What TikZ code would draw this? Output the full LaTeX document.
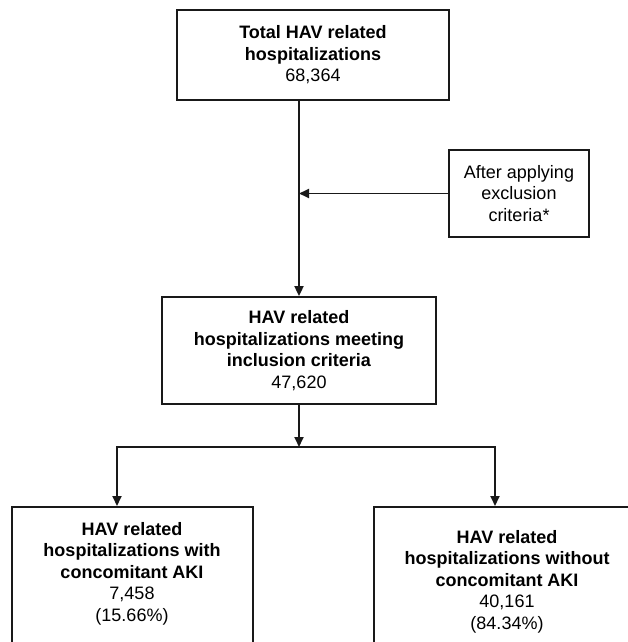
\documentclass[tikz,border=0pt]{standalone}
\usepackage{fontspec}
\setmainfont{Liberation Sans}
\usetikzlibrary{arrows.meta}
\begin{document}
\begin{tikzpicture}[x=1pt,y=-1pt,
  box/.style={draw=black!90, line width=1.8pt, align=center, inner sep=0pt, font=\fontsize{18}{21.5}\selectfont},
  txt/.style={align=center, inner sep=0pt, font=\fontsize{18}{21.5}\selectfont},
  arr/.style={draw=black!90, line width=1.8pt, -{Triangle[length=10pt,width=9pt]}},
  ln/.style={draw=black!90, line width=1.8pt, line cap=rect}]
\useasboundingbox (0,0) rectangle (628,642);
\clip (0,0) rectangle (628,642);
\fill[white] (0,0) rectangle (628,642);
\node[box, minimum width=272pt, minimum height=90pt] (top) at (313,55)
  {\textbf{Total HAV related}\\\textbf{hospitalizations}\\68,364};
\node[box, minimum width=140pt, minimum height=87pt] (excl) at (519,193.5)
  {After applying\\exclusion\\criteria*};
\node[box, minimum width=274pt, minimum height=107pt] (mid) at (299,350.5)
  {\textbf{HAV related}\\\textbf{hospitalizations meeting}\\\textbf{inclusion criteria}\\47,620};
\node[box, minimum width=241pt, minimum height=170pt, anchor=north] (left) at (132.5,506) {};
\node[txt, anchor=north] (lefttxt) at (132,522)
  {\textbf{HAV related}\\\textbf{hospitalizations with}\\\textbf{concomitant AKI}\\7,458\\(15.66\%)};
\node[box, minimum width=266pt, minimum height=170pt, anchor=north] (right) at (507,506) {};
\node[txt, anchor=north] (righttxt) at (507,530)
  {\textbf{HAV related}\\\textbf{hospitalizations without}\\\textbf{concomitant AKI}\\40,161\\(84.34\%)};
\draw[arr] (top.south -| mid.north) -- (mid.north);
\draw[arr] (excl.west) -- (excl.west -| mid.north);
\coordinate (br) at (mid.south |- 0,447);
\coordinate (bl) at (117,447);
\coordinate (brr) at (495,447);
\draw[arr] (mid.south) -- (br);
\draw[ln] (bl) -- (brr);
\draw[arr] (bl) -- (bl |- left.north);
\draw[arr] (brr) -- (brr |- right.north);
\end{tikzpicture}
\end{document}
